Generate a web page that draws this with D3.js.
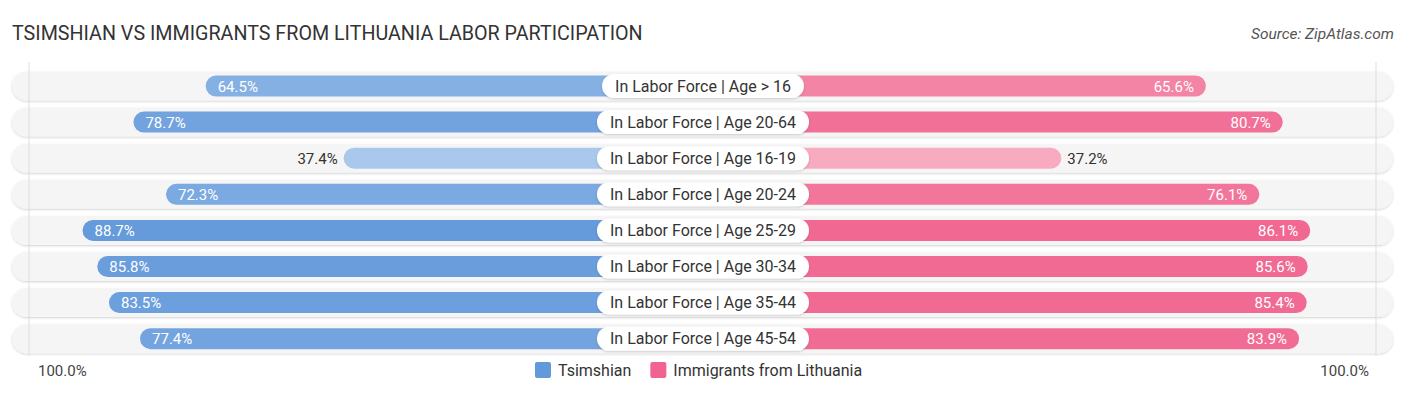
<!DOCTYPE html>
<html>
<head>
<meta charset="utf-8">
<script src="https://cdn.jsdelivr.net/npm/d3@7"></script>
<style>
  body { margin: 0; background: #fff; }
  text { font-family: Roboto, "Noto Sans", sans-serif; }
</style>
</head>
<body>
<div id="chart"></div>
<script>
const categories = ['In Labor Force | Age > 16', 'In Labor Force | Age 20-64', 'In Labor Force | Age 16-19',
    'In Labor Force | Age 20-24', 'In Labor Force | Age 25-29', 'In Labor Force | Age 30-34',
    'In Labor Force | Age 35-44', 'In Labor Force | Age 45-54'];
const tsimshian = [64.5, 78.7, 37.4, 72.3, 88.7, 85.8, 83.5, 77.4];
const lithuania = [65.6, 80.7, 37.2, 76.1, 86.1, 85.6, 85.4, 83.9];
const seriesNames = ['Tsimshian', 'Immigrants from Lithuania'];
const axisLabels = ['100.0%', '100.0%'];

const width = 1406, height = 395;
const cx = 703, gap = 169;
const rowTop = 86, rowStep = 36.1;

let svg = d3.select('#chart').append('svg')
    .attr('width', width)
    .attr('height', height);

let xLeft = d3.scaleLinear().domain([0, 100]).range([cx - gap, cx - gap - 509]);
let xRight = d3.scaleLinear().domain([0, 100]).range([cx + gap, cx + gap + 509]);
let y = i => rowTop + i * rowStep;

let blueCol = d3.scaleLinear().domain([30, 90]).range(['#b3cfee', '#6399db']).clamp(true);
let pinkCol = d3.scaleLinear().domain([30, 90]).range(['#f9b3c8', '#f0648f']).clamp(true);

let defs = svg.append('defs');
let f = defs.append('filter').attr('id', 'shadow').attr('x', '-5%').attr('y', '-30%').attr('width', '110%').attr('height', '160%');
f.append('feDropShadow').attr('dx', 0).attr('dy', 1).attr('stdDeviation', 1.2).attr('flood-color', '#000').attr('flood-opacity', 0.18);

// title
svg.append('text').attr('x', 12).attr('y', 40)
    .style('font-size', '19.7px').style('fill', '#333')
    .text('TSIMSHIAN VS IMMIGRANTS FROM LITHUANIA LABOR PARTICIPATION');
svg.append('text').attr('x', 1394).attr('y', 39).attr('text-anchor', 'end')
    .style('font-size', '15.5px').style('font-style', 'italic').style('fill', '#555')
    .text('Source: ZipAtlas.com');

// row backgrounds
svg.selectAll('.rowBg').data(categories).enter().append('rect')
    .attr('class', 'rowBg')
    .attr('x', 12).attr('y', (d, i) => y(i) - 14.5)
    .attr('width', 1381).attr('height', 29)
    .attr('rx', 14.5)
    .attr('fill', '#f5f5f5')
    .attr('filter', 'url(#shadow)');

// gridlines at 100%
svg.selectAll('.grid').data([xLeft(100) + 4, xRight(100) - 5]).enter().append('line')
    .attr('x1', d => d).attr('x2', d => d)
    .attr('y1', 62).attr('y2', 356)
    .attr('stroke', '#ddd').attr('stroke-width', 1);

// bars run from the value to the centre, behind the label
svg.selectAll('.barL').data(tsimshian).enter().append('rect')
    .attr('class', 'barL')
    .attr('x', d => xLeft(d)).attr('y', (d, i) => y(i) - 10.5)
    .attr('width', d => cx - xLeft(d)).attr('height', 21)
    .attr('rx', 10.5)
    .attr('fill', d => blueCol(d));

svg.selectAll('.barR').data(lithuania).enter().append('rect')
    .attr('class', 'barR')
    .attr('x', cx).attr('y', (d, i) => y(i) - 10.5)
    .attr('width', d => xRight(d) - cx).attr('height', 21)
    .attr('rx', 10.5)
    .attr('fill', d => pinkCol(d));

// value labels
svg.selectAll('.valL').data(tsimshian).enter().append('text')
    .attr('x', d => d > 50 ? xLeft(d) + 12 : xLeft(d) - 6)
    .attr('y', (d, i) => y(i) + 5.5)
    .attr('text-anchor', d => d > 50 ? 'start' : 'end')
    .style('font-size', '15px')
    .style('fill', d => d > 50 ? '#fff' : '#333')
    .text(d => d.toFixed(1) + '%');

svg.selectAll('.valR').data(lithuania).enter().append('text')
    .attr('x', d => d > 50 ? xRight(d) - 12 : xRight(d) + 6)
    .attr('y', (d, i) => y(i) + 5.5)
    .attr('text-anchor', d => d > 50 ? 'end' : 'start')
    .style('font-size', '15px')
    .style('fill', d => d > 50 ? '#fff' : '#333')
    .text(d => d.toFixed(1) + '%');

// center labels
let labels = svg.selectAll('.catLabel').data(categories).enter().append('g')
    .attr('class', 'catLabel')
    .attr('transform', (d, i) => `translate(${cx},${y(i)})`);
labels.append('rect').attr('class', 'pill');
labels.append('text')
    .attr('text-anchor', 'middle').attr('y', 5.5)
    .style('font-size', '16px').style('fill', '#333')
    .text(d => d);
labels.each(function () {
    let g = d3.select(this);
    let w = g.select('text').node().getComputedTextLength() + 26;
    g.select('rect')
        .attr('x', -w / 2).attr('y', -12).attr('width', w).attr('height', 24)
        .attr('rx', 12).attr('fill', '#fff').attr('filter', 'url(#shadow)');
});

// axis labels
svg.append('text').attr('x', 38).attr('y', 376).style('font-size', '15px').style('fill', '#444').text(axisLabels[0]);
svg.append('text').attr('x', 1369).attr('y', 376).attr('text-anchor', 'end').style('font-size', '15px').style('fill', '#444').text(axisLabels[1]);

// legend
let legend = svg.append('g');
let lx = 535;
seriesNames.forEach((name, i) => {
    let g = legend.append('g');
    g.append('rect').attr('x', 0).attr('y', -8).attr('width', 16).attr('height', 16).attr('rx', 2)
        .attr('fill', i === 0 ? '#6399db' : '#f0648f');
    g.append('text').attr('x', 23).attr('y', 5.5).style('font-size', '16px').style('fill', '#333').text(name);
    g.attr('transform', `translate(${lx},370)`);
    lx += 23 + g.select('text').node().getComputedTextLength() + 19;
});
</script>
</body>
</html>
